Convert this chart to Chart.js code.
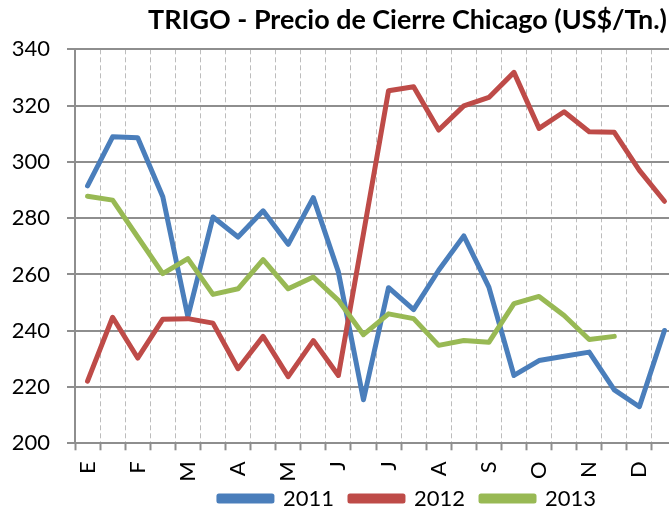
<!DOCTYPE html>
<html><head><meta charset="utf-8">
<script src="https://cdn.jsdelivr.net/npm/chart.js@4/dist/chart.umd.min.js"></script>
<style>
html,body{margin:0;padding:0;background:#fff;}
#wrap{width:669px;height:513px;overflow:hidden;position:relative;background:#fff;}
canvas{display:block;}
</style></head><body>
<div id="wrap"><canvas id="c" width="815" height="513"></canvas></div>
<script>
// ---- data ----
const chartTitle = 'TRIGO - Precio de Cierre Chicago (US$/Tn.)';
const categories = ['E','','F','','M','','A','','M','','J','','J','','A','','S','','O','','N','','D',''];
const seriesNames = ['2011','2012','2013'];
const values2011 = [291.5,308.9,308.6,287.6,245.0,280.4,273.3,282.6,270.7,287.3,260.9,215.5,255.3,247.5,261.5,273.7,255.5,224.1,229.4,230.9,232.4,219.0,213.0,240.1];
const values2012 = [222.1,244.8,230.3,244.1,244.3,242.7,226.5,238.0,223.7,236.5,224.1,274.5,325.3,326.7,311.3,319.9,322.9,331.8,311.9,317.8,310.7,310.5,297.0,286.0];
const values2013 = [287.8,286.4,273.3,260.3,265.6,252.9,254.9,265.3,254.9,259.1,250.8,238.6,246.0,244.3,234.8,236.5,235.9,249.6,252.2,245.4,236.9,238.0];
const yMin = 200, yMax = 340, yStep = 20;

// ---- layout / style ----
const CANVAS_W = 815, CANVAS_H = 513;
const PLOT_LEFT = 75, PLOT_RIGHT = 677, PLOT_TOP = 49.3, PLOT_BOTTOM = 443.3;
const FONT = 'Lato, "Open Sans", "Liberation Sans", sans-serif';
const colors = ['#4a7ebb', '#be4b48', '#98b954'];
const gridGray = '#8e8e8e';

// title size fitted to the reference width
const mctx = document.createElement('canvas').getContext('2d');
mctx.font = 'bold 100px ' + FONT;
const titleSize = 100 * 519 / mctx.measureText(chartTitle).width;
const titlePadTop = 20.2 - 0.6 * titleSize;
const titlePadBottom = PLOT_TOP - titlePadTop - 1.2 * titleSize;

const legendFont = 22, legendPad = 16;

const layoutTweak = {
  id: 'layoutTweak',
  afterLayout(chart) {
    if (chart.legend) { chart.legend.top += 6.5; chart.legend.bottom += 6.5; }
    const x = chart.scales.x;
    if (x) { x.bottom = x.top + 50; x.height = 50; }
  }
};

const seriesValues = [values2011, values2012, values2013];
const datasets = seriesNames.map((name, i) => ({
  label: name,
  data: seriesValues[i],
  borderColor: colors[i],
  backgroundColor: colors[i],
  borderWidth: 5,
  pointRadius: 0,
  pointHoverRadius: 0,
  tension: 0,
  fill: false,
  borderCapStyle: 'round',
  borderJoinStyle: 'round',
  order: 3 - i
}));

new Chart(document.getElementById('c'), {
  type: 'line',
  data: { labels: categories, datasets },
  plugins: [layoutTweak],
  options: {
    responsive: false,
    animation: false,
    devicePixelRatio: 1,
    layout: { padding: 0 },
    plugins: {
      tooltip: { enabled: false },
      title: {
        display: true,
        text: chartTitle,
        color: '#000',
        font: { family: FONT, size: titleSize, weight: 'bold', lineHeight: 1.2 },
        padding: { top: titlePadTop, bottom: titlePadBottom }
      },
      legend: {
        display: true,
        position: 'bottom',
        labels: {
          color: '#000',
          font: { family: FONT, size: legendFont },
          boxWidth: 53,
          boxHeight: 5,
          padding: legendPad,
          sort: (a, b) => a.datasetIndex - b.datasetIndex
        }
      }
    },
    scales: {
      x: {
        type: 'category',
        offset: true,
        grid: {
          display: true,
          offset: true,
          color: '#bcbcbc',
          lineWidth: 1,
          drawTicks: true,
          tickLength: 7,
          tickColor: gridGray,
          tickWidth: 2
        },
        border: { display: true, color: gridGray, width: 2, dash: [5, 3] },
        ticks: {
          autoSkip: false,
          minRotation: 90,
          maxRotation: 90,
          padding: 11,
          color: '#000',
          font: { family: FONT, size: 22 }
        },
        afterFit: (s) => { s.height = CANVAS_H - PLOT_BOTTOM - (legendFont + legendPad + 10); }
      },
      y: {
        type: 'linear',
        position: 'left',
        min: yMin, max: yMax,
        grid: { color: gridGray, lineWidth: 2, tickLength: 8, tickColor: gridGray, tickWidth: 2 },
        border: { display: true, color: gridGray, width: 2 },
        ticks: {
          stepSize: yStep,
          padding: 17,
          color: '#000',
          font: { family: FONT, size: 22 }
        },
        afterFit: (s) => { s.width = PLOT_LEFT; }
      },
      y2: {
        type: 'linear',
        position: 'right',
        min: 0, max: 1,
        display: true,
        grid: { display: false, drawTicks: false },
        border: { display: false },
        ticks: { display: false },
        afterFit: (s) => { s.width = CANVAS_W - PLOT_RIGHT; }
      }
    }
  }
});
</script>
</body></html>
